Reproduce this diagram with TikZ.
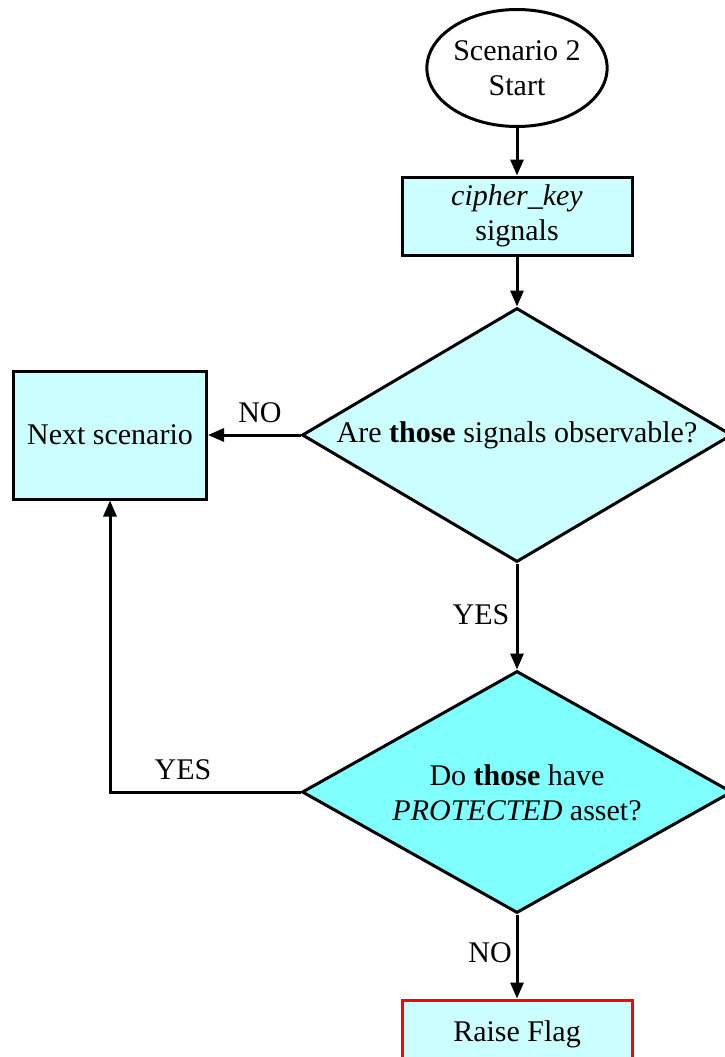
\documentclass[tikz,border=0pt]{standalone}
\usepackage{fontspec}
\setmainfont{Liberation Serif}
\usetikzlibrary{shapes.geometric,arrows.meta}
\definecolor{lightcyan}{HTML}{CCFFFF}
\definecolor{midcyan}{HTML}{80FFFF}
\begin{document}
\begin{tikzpicture}[x=1pt,y=-1pt,
  every node/.style={font=\fontsize{30}{35}\selectfont},
  proc/.style={draw=black, line width=3pt, fill=lightcyan, rectangle, inner sep=0pt, align=center},
  dia/.style={draw=black, line width=3pt, diamond, inner sep=0pt, aspect=1},
  arr/.style={line width=3pt, -{Triangle[length=16pt,width=13pt]}},
  lbl/.style={inner sep=1pt}]
\useasboundingbox (0,0) rectangle (725,1057);
\node[draw=black, line width=3pt, fill=white, ellipse, minimum width=172pt, minimum height=117pt, inner sep=0pt, align=center] (start) at (517,68) {Scenario 2\\Start};
\node[proc, minimum width=230pt, minimum height=78pt] (cipher) at (517,216) {\textit{cipher\_key}\\signals};
\node[dia, fill=lightcyan, minimum width=430pt, minimum height=254pt] (d1) at (517,435) {};
\node (d1t) at (d1.center) {Are \textbf{those} signals observable?};
\node[proc, minimum width=193pt, minimum height=128pt] (next) at (110,435) {Next scenario};
\node[dia, fill=midcyan, minimum width=430pt, minimum height=242pt] (d2) at (517,792) {};
\node[align=center] (d2t) at (517,793) {Do \textbf{those} have\\\textit{PROTECTED} asset?};
\node[proc, draw=red, minimum width=230pt, minimum height=68pt] (flag) at (517,1034) {Raise Flag};
\coordinate (corner) at (110,792);
\draw[arr] (start) -- (cipher);
\draw[arr] (cipher) -- (d1.north);
\draw[arr] (d1.west) -- (next.east);
\draw[arr] (d1.south) -- (d2.north);
\draw[arr] (d2.west) -- (corner) -- (next.south);
\draw[arr] (d2.south) -- (flag.north);
\node[lbl] (l1) at (260,413) {NO};
\node[lbl] (l2) at (481,615) {YES};
\node[lbl] (l3) at (183,770) {YES};
\node[lbl] (l4) at (490,953) {NO};
\end{tikzpicture}
\end{document}
